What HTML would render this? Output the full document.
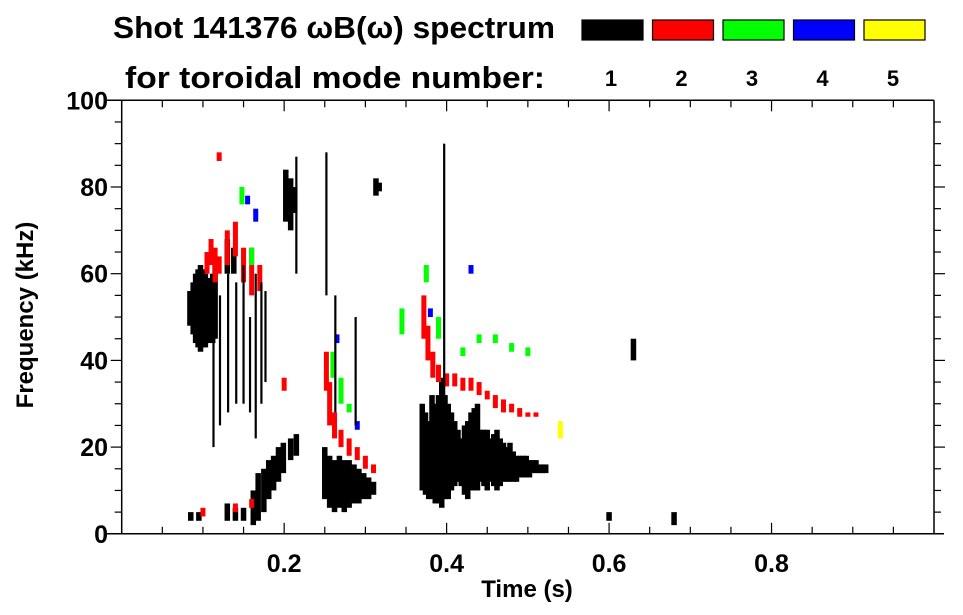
<!DOCTYPE html>
<html><head><meta charset="utf-8"><style>
html,body{margin:0;padding:0;background:#fff;}
svg{display:block;font-family:"Liberation Sans",sans-serif;}
</style></head><body>
<svg id="chart" width="963" height="615" viewBox="0 0 963 615">
<text x="113" y="38" font-size="31" font-weight="bold" textLength="442" lengthAdjust="spacingAndGlyphs">Shot 141376 ωB(ω) spectrum</text>
<text x="125" y="88" font-size="31" font-weight="bold" textLength="420" lengthAdjust="spacingAndGlyphs">for toroidal mode number:</text>
<g id="legend"></g>
<g id="marks"></g>
<g id="axes"></g>
<text x="527" y="597" font-size="24" font-weight="bold" text-anchor="middle">Time (s)</text>
<text transform="translate(33,315) rotate(-90)" font-size="24" font-weight="bold" text-anchor="middle">Frequency (kHz)</text>
</svg>
<script>
const modes=[1,2,3,4,5];
const modeColors=["#000000","#ff0000","#00ff00","#0000ff","#ffff00"];
const xTicks=[0.2,0.4,0.6,0.8];
const yTicks=[0,20,40,60,80,100];
// blob strips: [time s, fLow kHz, fHigh kHz]
const mode1=[[0.084,48,56],[0.088,46,58],[0.091,44,60],[0.094,43,61],[0.097,42,62],[0.100,43,61],[0.103,43,60],[0.106,44,59],[0.109,45,58],[0.112,44,60],[0.115,45,62],[0.130,60,68],[0.138,60,66],
[0.085,3,5],[0.095,3,5],[0.130,3,7],[0.140,3,6],[0.150,3,6],[0.162,2,10],[0.168,3,14],[0.175,5,15],[0.181,8,17],[0.187,10,18],[0.193,12,20],[0.199,14,21],[0.208,17,22],[0.215,18,23],
[0.202,72,84],[0.208,70,82],[0.213,74,80],[0.313,78,82],[0.317,79,81],
[0.250,8,20],[0.256,6,18],[0.262,5,17],[0.268,6,18],[0.274,5,17],[0.280,6,17],[0.286,7,16],[0.292,7,15],[0.298,8,14],[0.304,8,13],[0.310,9,12],
[0.370,10,30],[0.374,9,28],[0.378,8,26],[0.382,8,32],[0.386,7,30],[0.390,7,32],[0.394,6,36],[0.398,8,32],[0.402,8,30],[0.406,10,28],[0.410,11,26],[0.414,12,24],[0.418,11,22],[0.422,9,25],[0.426,8,26],[0.430,10,28],[0.434,10,29],[0.438,10,30],[0.442,12,24],[0.446,11,24],[0.450,10,24],[0.454,12,22],[0.458,11,23],[0.462,10,24],[0.466,11,22],[0.470,12,21],[0.474,12,20],[0.478,12,21],[0.482,12,19],[0.486,12,18],[0.490,13,18],[0.494,13,18],[0.498,13,18],[0.502,13,17],[0.506,14,17],[0.510,14,17],[0.514,14,16],[0.518,14,16],[0.522,14,16],
[0.680,2,5],[0.630,40,45],[0.600,3,5]];
// thin vertical lines for mode 1: [time s, fLow kHz, fHigh kHz]
const mode1Lines=[[0.113,20,55],[0.121,25,55],[0.131,28,60],[0.141,30,58],[0.150,30,62],[0.158,28,50],[0.165,22,60],[0.172,30,58],[0.177,35,56],[0.215,60,87],[0.252,55,88],[0.263,28,55],[0.288,25,50],[0.397,30,90]];
const mode2=[[0.105,60,65],[0.110,62,68],[0.115,58,66],[0.120,60,64],[0.130,62,70],[0.140,64,72],[0.150,58,66],[0.160,55,66],[0.170,56,62],[0.200,33,36],[0.100,4,6],[0.140,5,7],[0.160,6,8],[0.120,86,88],
[0.252,33,42],[0.256,25,35],[0.262,22,28],[0.270,20,24],[0.280,18,22],[0.290,17,20],[0.300,15,18],[0.310,14,16],
[0.372,45,55],[0.377,40,48],[0.383,36,42],[0.390,35,39],[0.400,34,37],[0.410,34,37],[0.420,33,36],[0.430,33,36],[0.440,32,35],[0.450,31,33],[0.460,29,32],[0.470,28,31],[0.480,28,30],[0.490,27,29],[0.500,27,28],[0.510,27,28]];
const mode3=[[0.148,76,80],[0.160,62,66],[0.260,36,42],[0.270,30,36],[0.280,28,30],[0.345,46,52],[0.375,58,62],[0.390,45,50],[0.420,41,43],[0.440,44,46],[0.460,44,46],[0.480,42,44],[0.500,41,43]];
const mode4=[[0.155,76,78],[0.165,72,75],[0.380,50,52],[0.430,60,62],[0.265,44,46],[0.290,24,26]];
const mode5=[[0.540,22,26]];
const series=[mode1,mode2,mode3,mode4,mode5];

const L=121.7,R=934,T=100.3,B=533.8,tMax=1.0,fMax=100;
const xs=t=>L+t/tMax*(R-L);
const ys=f=>B-f/fMax*(B-T);
const NS="http://www.w3.org/2000/svg";
function mk(tag,attrs,parent){const e=document.createElementNS(NS,tag);for(const k in attrs)e.setAttribute(k,attrs[k]);parent.appendChild(e);return e;}

const marks=document.getElementById('marks');
series.forEach((s,i)=>{s.forEach(d=>{
  const w=i===0?5.5:5;
  const r=mk('rect',{x:xs(d[0])-w/2,y:ys(d[2]),width:w,height:Math.max(1.5,ys(d[1])-ys(d[2])),fill:modeColors[i]},marks);
  
  
});});
mode1Lines.forEach(d=>{
  const r=mk('rect',{x:xs(d[0])-1.1,y:ys(d[2]),width:2.2,height:ys(d[1])-ys(d[2]),fill:modeColors[0]},marks);
  
  
});

const lg=document.getElementById('legend');
modes.forEach((m,i)=>{
  const x=582+i*70.5;
  const r=mk('rect',{x:x,y:20,width:61,height:20,fill:modeColors[i],stroke:'#000','stroke-width':1.2},lg);
  
  
  const t=mk('text',{x:x+29,y:86,'font-size':22,'font-weight':'bold','text-anchor':'middle'},lg);
  t.textContent=m;
  
  
});

const ax=document.getElementById('axes');
mk('path',{d:`M${L},${T}V${B}H${R}V${T}M106,${T}H${R}`,fill:'none',stroke:'#000','stroke-width':1.5},ax);
mk('line',{x1:106,y1:B,x2:R+10,y2:B,stroke:'#000','stroke-width':1.5},ax);
for(let t=0.05;t<tMax-0.001;t+=0.05){
  const major=Math.abs(t*5-Math.round(t*5))<1e-6;
  const len=major?11:7;
  mk('line',{x1:xs(t),y1:B,x2:xs(t),y2:B-len,stroke:'#000','stroke-width':1.2},ax);
  mk('line',{x1:xs(t),y1:T,x2:xs(t),y2:T+len,stroke:'#000','stroke-width':1.2},ax);
}
for(let f=5;f<fMax;f+=5){
  const major=f%20===0;
  const len=major?11:7;
  mk('line',{x1:L,y1:ys(f),x2:L-len,y2:ys(f),stroke:'#000','stroke-width':1.2},ax);
  mk('line',{x1:R,y1:ys(f),x2:R+len,y2:ys(f),stroke:'#000','stroke-width':1.2},ax);
}
xTicks.forEach(v=>{
  const t=mk('text',{x:xs(v),y:572,'font-size':25,'font-weight':'bold','text-anchor':'middle'},ax);
  t.textContent=v.toFixed(1);
  
  
});
yTicks.forEach(v=>{
  const t=mk('text',{x:108,y:ys(v)+9,'font-size':25,'font-weight':'bold','text-anchor':'end'},ax);
  t.textContent=v;
  
  
});
</script>
</body></html>
